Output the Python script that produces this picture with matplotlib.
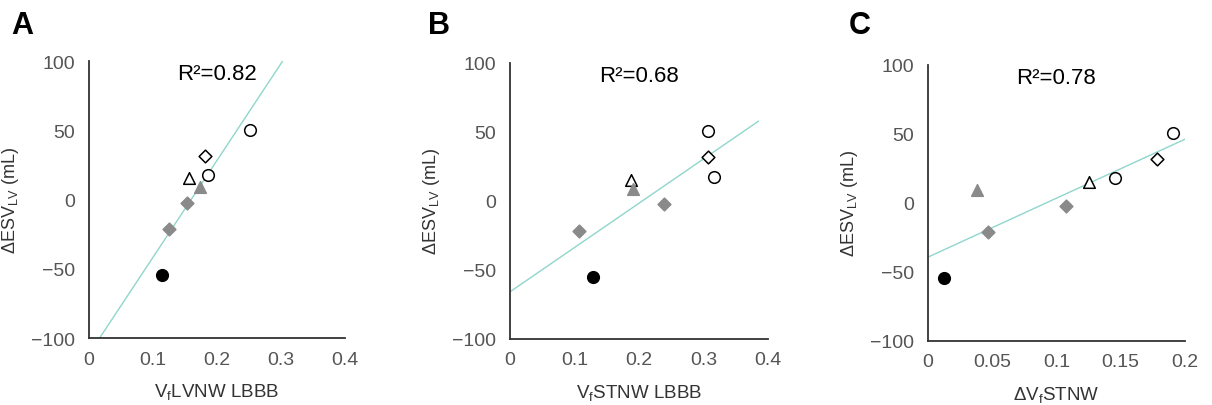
import numpy as np
import matplotlib
matplotlib.use("Agg")
import matplotlib.pyplot as plt

plt.rcParams['font.family'] = ['Liberation Sans', 'DejaVu Sans']
plt.rcParams['mathtext.default'] = 'regular'

# Shared y values (ΔESV_LV, mL) for the 8 patients
esv = [50.5, 31.8, 17.5, 15.3, 9.0, -2.5, -21.5, -54.8]
# marker kinds per patient
kinds = ['open_circle', 'open_diamond', 'open_circle', 'open_triangle',
         'gray_triangle', 'gray_diamond', 'gray_diamond', 'black_circle']

# x values per panel
x_a = [0.251, 0.181, 0.186, 0.156, 0.174, 0.154, 0.126, 0.115]
x_b = [0.3075, 0.3075, 0.316, 0.187, 0.190, 0.238, 0.107, 0.129]
x_c = [0.191, 0.1784, 0.146, 0.1257, 0.038, 0.1075, 0.047, 0.0127]

panel_letters = ['A', 'B', 'C']
r2_labels = ['R²=0.82', 'R²=0.68', 'R²=0.78']
x_labels = ['$V_f$LVNW LBBB', '$V_f$STNW LBBB', 'Δ$V_f$STNW']
x_ticks = [[0, 0.1, 0.2, 0.3, 0.4], [0, 0.1, 0.2, 0.3, 0.4],
           [0, 0.05, 0.1, 0.15, 0.2]]
x_ticklabels = [['0', '0.1', '0.2', '0.3', '0.4'], ['0', '0.1', '0.2', '0.3', '0.4'],
                ['0', '0.05', '0.1', '0.15', '0.2']]
fit_ranges = [(0.0, 0.4), (0.0, 0.385), (0.0, 0.2)]
y_ticks = [-100, -50, 0, 50, 100]
y_ticklabels = ['\u2212100', '\u221250', '0', '50', '100']

styles = {
    'open_circle': dict(marker='o', facecolor='white', edgecolor='black', s=70),
    'open_diamond': dict(marker='D', facecolor='white', edgecolor='black', s=42),
    'open_triangle': dict(marker='^', facecolor='white', edgecolor='black', s=70),
    'gray_triangle': dict(marker='^', facecolor='#8a8a8a', edgecolor='#8a8a8a', s=70),
    'gray_diamond': dict(marker='D', facecolor='#8a8a8a', edgecolor='#8a8a8a', s=42),
    'black_circle': dict(marker='o', facecolor='black', edgecolor='black', s=70),
}

fig = plt.figure(figsize=(12.12, 4.06), dpi=100)
positions = [
    [0.0732, 0.165, 0.2115, 0.682],
    [0.4208, 0.1626, 0.2129, 0.680],
    [0.7654, 0.1584, 0.2123, 0.680],
]
letter_x = [0.009, 0.353, 0.700]

xs_all = [x_a, x_b, x_c]
tick_color = '#555555'
for i, pos in enumerate(positions):
    ax = fig.add_axes(pos)
    xs = np.array(xs_all[i])
    ys = np.array(esv)
    # regression line
    m, b = np.polyfit(xs, ys, 1)
    lx = np.linspace(fit_ranges[i][0], fit_ranges[i][1], 50)
    ax.plot(lx, m * lx + b, color='#8fd6cc', lw=1.0, zorder=1)
    for xv, yv, k in zip(xs, ys, kinds):
        st = styles[k]
        ax.scatter([xv], [yv], marker=st['marker'], s=st['s'],
                   facecolors=st['facecolor'], edgecolors=st['edgecolor'],
                   linewidths=1.1, zorder=3)
    ax.set_xlim(x_ticks[i][0], x_ticks[i][-1])
    ax.set_ylim(-100, 100)
    ax.set_xticks(x_ticks[i])
    ax.set_xticklabels(x_ticklabels[i])
    ax.set_yticks(y_ticks)
    ax.set_yticklabels(y_ticklabels)
    ax.tick_params(length=0, labelsize=14, colors=tick_color)
    ax.tick_params(axis='y', pad=10)
    ax.tick_params(axis='x', pad=9)
    for s in ['top', 'right']:
        ax.spines[s].set_visible(False)
    for s in ['left', 'bottom']:
        ax.spines[s].set_color('#333333')
        ax.spines[s].set_linewidth(1.3)
    ax.set_ylabel('ΔESV$_{LV}$ (mL)', fontsize=13, color='#333333', labelpad=7)
    ax.set_xlabel(x_labels[i], fontsize=13.5, color='#333333', labelpad=10)
    ax.text(0.5, 0.955, r2_labels[i], transform=ax.transAxes, ha='center',
            va='center', fontsize=16, color='black')
    fig.text(letter_x[i], 0.935, panel_letters[i], fontsize=22, fontweight='bold',
             ha='left', va='center')

fig.savefig('out.png', dpi=100)
